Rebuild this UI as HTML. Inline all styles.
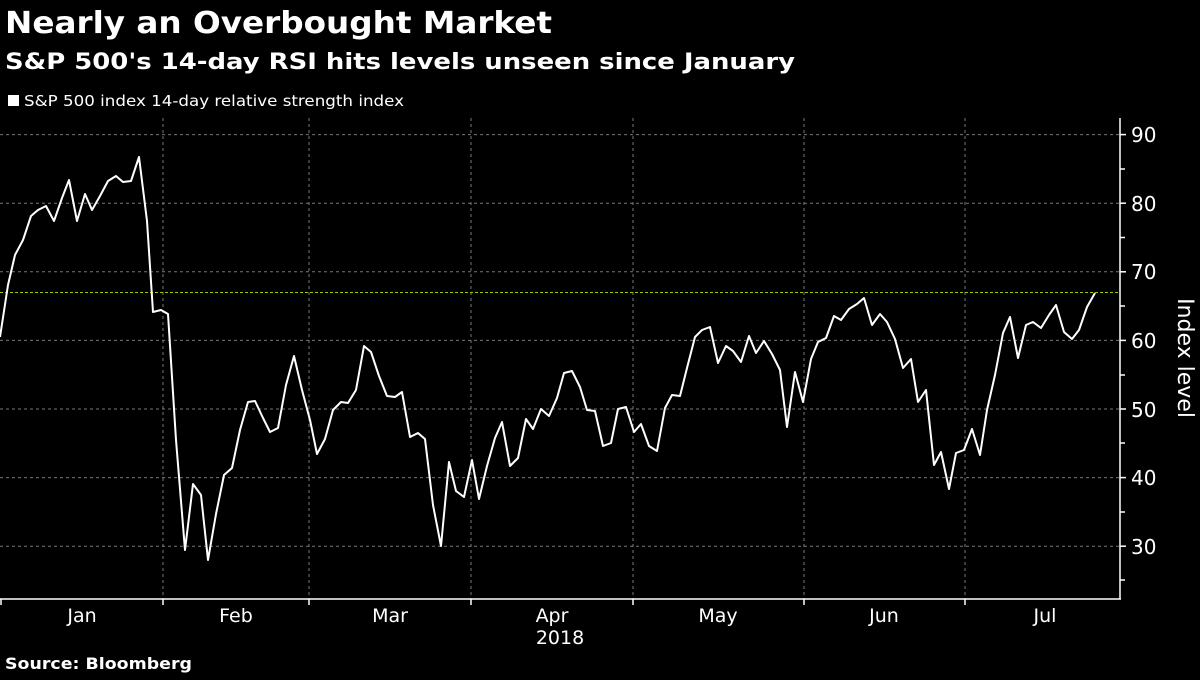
<!DOCTYPE html>
<html><head><style>
body{margin:0;background:#000;width:1200px;height:675px;overflow:hidden;font-family:"Liberation Sans",sans-serif;color:#fff}
</style></head><body>
<svg width="1200" height="675" xmlns="http://www.w3.org/2000/svg" font-family="DejaVu Sans, Liberation Sans, sans-serif">
<rect width="1200" height="675" fill="#000"/>
<text x="5" y="33" font-size="30" font-weight="bold" fill="#fff" textLength="547" lengthAdjust="spacingAndGlyphs">Nearly an Overbought Market</text>
<text x="5" y="69" font-size="22" font-weight="bold" fill="#fff" textLength="790" lengthAdjust="spacingAndGlyphs">S&amp;P 500's 14-day RSI hits levels unseen since January</text>
<rect x="8" y="95" width="11" height="11" fill="#fff"/>
<text x="24" y="106" font-size="15" fill="#fff" textLength="380" lengthAdjust="spacingAndGlyphs">S&amp;P 500 index 14-day relative strength index</text>
<g stroke="#777" stroke-width="1" stroke-dasharray="3,3">
<line x1="0" x2="1120" y1="134.6" y2="134.6"/><line x1="0" x2="1120" y1="203.2" y2="203.2"/><line x1="0" x2="1120" y1="271.8" y2="271.8"/><line x1="0" x2="1120" y1="340.4" y2="340.4"/><line x1="0" x2="1120" y1="409" y2="409"/><line x1="0" x2="1120" y1="477.6" y2="477.6"/><line x1="0" x2="1120" y1="546.2" y2="546.2"/>
<line x1="163" x2="163" y1="118" y2="599"/><line x1="309" x2="309" y1="118" y2="599"/><line x1="471" x2="471" y1="118" y2="599"/><line x1="633" x2="633" y1="118" y2="599"/><line x1="804" x2="804" y1="118" y2="599"/><line x1="965" x2="965" y1="118" y2="599"/>
</g>
<line x1="0" x2="1120" y1="292.5" y2="292.5" stroke="#9c0" stroke-width="1" stroke-dasharray="3,2"/>
<g stroke="#fff" stroke-width="1.5">
<line x1="0" x2="1121" y1="599" y2="599"/><line x1="1120" x2="1120" y1="118" y2="599"/>
<line x1="1" x2="1" y1="599" y2="605"/><line x1="163" x2="163" y1="599" y2="605"/><line x1="309" x2="309" y1="599" y2="605"/><line x1="471" x2="471" y1="599" y2="605"/><line x1="633" x2="633" y1="599" y2="605"/><line x1="804" x2="804" y1="599" y2="605"/><line x1="965" x2="965" y1="599" y2="605"/>
<line x1="1120" x2="1126" y1="134.6" y2="134.6"/><line x1="1120" x2="1126" y1="203.2" y2="203.2"/><line x1="1120" x2="1126" y1="271.8" y2="271.8"/><line x1="1120" x2="1126" y1="340.4" y2="340.4"/><line x1="1120" x2="1126" y1="409" y2="409"/><line x1="1120" x2="1126" y1="477.6" y2="477.6"/><line x1="1120" x2="1126" y1="546.2" y2="546.2"/>
<line x1="1120" x2="1125" y1="169" y2="169"/><line x1="1120" x2="1125" y1="237.5" y2="237.5"/><line x1="1120" x2="1125" y1="306" y2="306"/><line x1="1120" x2="1125" y1="375" y2="375"/><line x1="1120" x2="1125" y1="443" y2="443"/><line x1="1120" x2="1125" y1="512" y2="512"/><line x1="1120" x2="1125" y1="580" y2="580"/>
</g>
<g font-size="20" fill="#fff">
<text x="1131" y="142">90</text><text x="1131" y="211">80</text><text x="1131" y="279">70</text><text x="1131" y="348">60</text><text x="1131" y="417">50</text><text x="1131" y="485">40</text><text x="1131" y="554">30</text>
</g>
<text transform="translate(1178,358) rotate(90)" font-size="22" fill="#fff" text-anchor="middle">Index level</text>
<g font-size="19" fill="#fff" text-anchor="middle">
<text x="82" y="622">Jan</text><text x="236" y="622">Feb</text><text x="390" y="622">Mar</text><text x="552" y="622">Apr</text><text x="718" y="622">May</text><text x="884" y="622">Jun</text><text x="1045" y="622">Jul</text>
<text x="560" y="644">2018</text>
</g>
<text x="5" y="669" font-size="16" font-weight="bold" fill="#fff" textLength="187" lengthAdjust="spacingAndGlyphs">Source: Bloomberg</text>
<polyline fill="none" stroke="#fff" stroke-width="2" stroke-linejoin="round" points="0,337 8,285 15,255 23,240 31,216 38,210 46,206 54,221 62,198 69,180 77,221 85,194 92,210 100,196 108,181 116,176 123,182 131,181 139,157 147,221 153,312 161,310 168,314 176,440 185,550 193,484 201,495 208,560 216,514 224,475 232,468 240,430 248,402 255,401 263,418 270,432 278,428 286,385 294,356 302,390 310,420 317,454 325,439 333,410 341,402 348,403 356,390 364,346 371,352 379,376 387,396 395,397 402,392 410,437 418,433 425,439 433,505 441,546 449,462 456,491 464,497 472,460 479,499 487,466 495,438 502,422 510,466 518,458 526,419 533,429 541,409 549,416 557,398 564,373 572,371 580,387 587,410 595,411 603,446 611,443 618,409 626,407 634,432 641,424 649,446 657,451 665,408 672,395 680,396 687,368 695,337 702,330 710,327 718,363 726,346 733,351 741,362 749,336 756,353 764,341 772,354 780,370 787,427 795,372 803,402 811,359 818,342 826,338 834,316 841,320 849,309 857,304 864,298 872,325 880,314 887,322 895,339 903,368 911,359 918,402 926,390 934,465 941,452 949,489 956,453 964,450 972,429 980,455 987,410 995,375 1003,333 1010,317 1018,358 1026,325 1033,322 1041,328 1049,315 1056,305 1064,332 1072,339 1079,330 1087,307 1095,293"/>
</svg>
</body></html>
